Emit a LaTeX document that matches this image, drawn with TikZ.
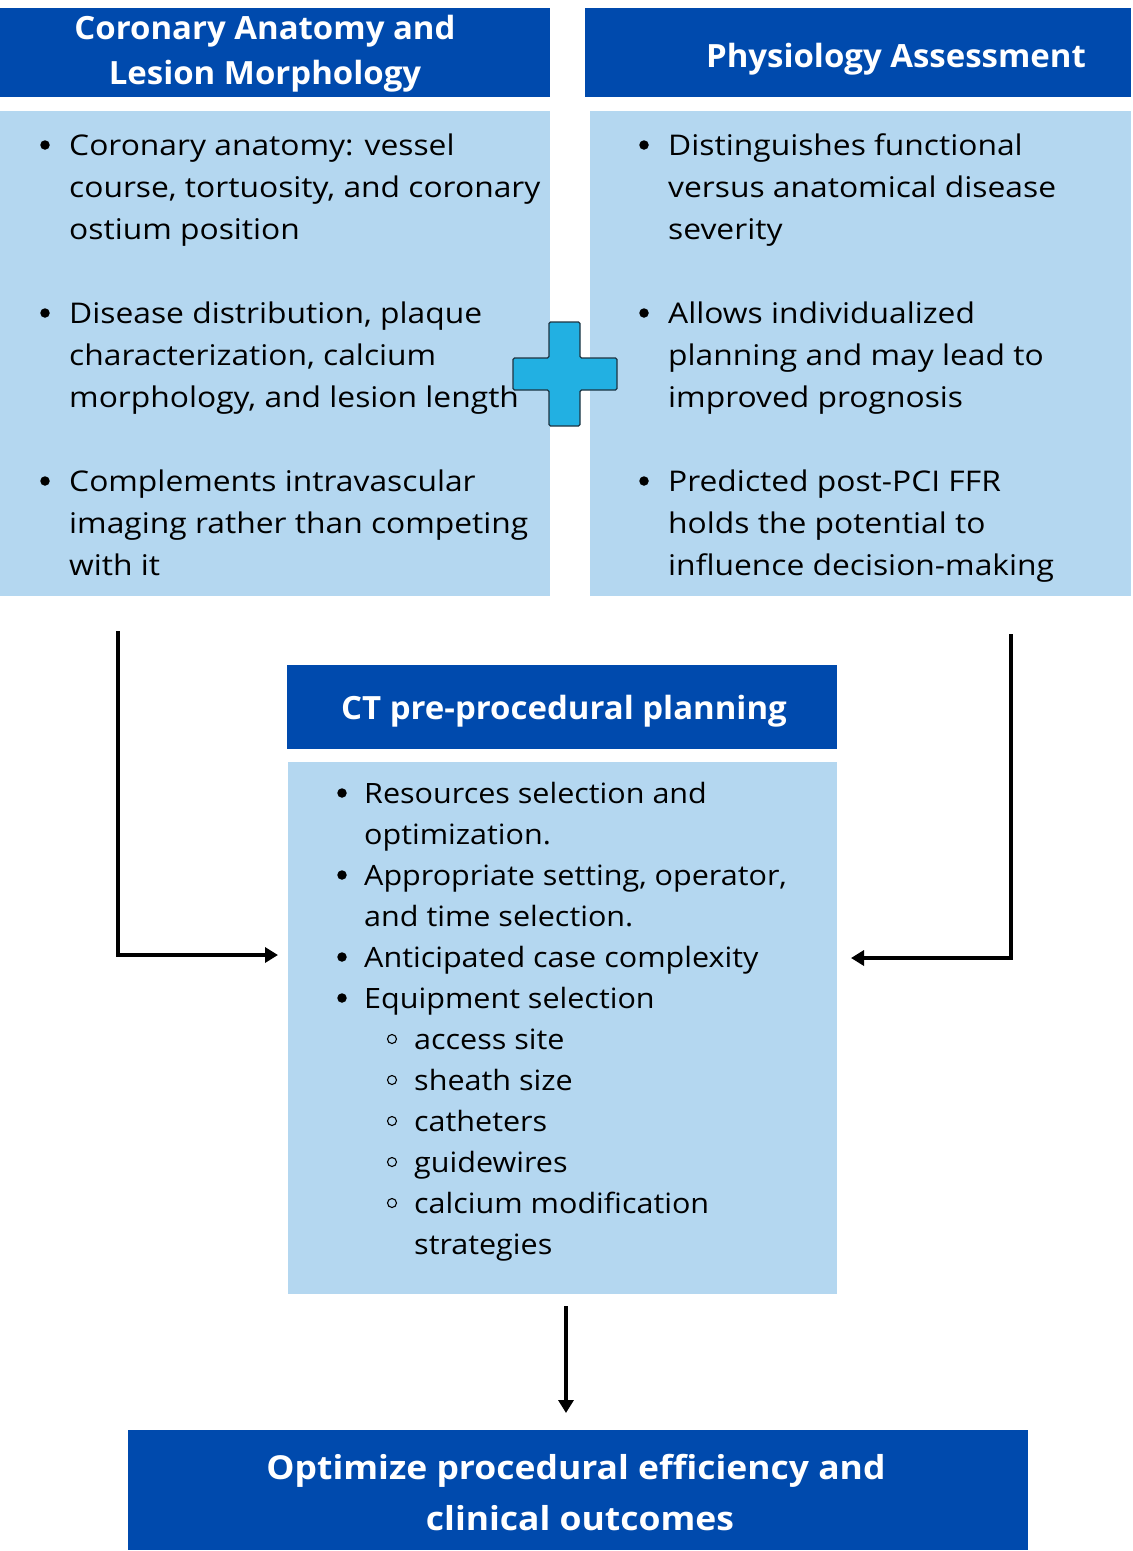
\documentclass[tikz,border=0pt]{standalone}
\usepackage{fontspec}
\setmainfont{Open Sans}
\newfontfamily\bodyff[FakeStretch=1.115]{Open Sans}
\newfontfamily\ctrff[FakeStretch=1.09]{Open Sans}
\newfontfamily\hdrff[FakeStretch=1.03]{Open Sans}
\newfontfamily\botff[FakeStretch=1.075]{Open Sans}
\usetikzlibrary{arrows.meta}
\definecolor{dblue}{HTML}{004AAD}
\definecolor{lblue}{HTML}{B4D7F0}
\definecolor{pblue}{HTML}{22B0E2}
\definecolor{pline}{HTML}{1E3442}
\newcommand{\bodyfont}{\bodyff\fontsize{28.5}{42}\selectfont}
\newcommand{\ctrfont}{\ctrff\fontsize{28}{41}\selectfont}
\begin{document}
\begin{tikzpicture}[x=1pt,y=-1pt,
  hdrbox/.style={fill=dblue},
  bodybox/.style={fill=lblue},
  hdrtext/.style={anchor=base, inner sep=0pt, text=white, font=\hdrff\fontsize{32}{44}\bfseries\selectfont},
  bottext/.style={anchor=base, inner sep=0pt, text=white, font=\botff\fontsize{33}{50}\bfseries\selectfont},
  itemtext/.style={anchor=north west, inner sep=0pt, align=left, font=\bodyfont},
  ctrtext/.style={anchor=north west, inner sep=0pt, align=left, font=\ctrfont},
  dot/.style={circle, fill=black, inner sep=0pt, minimum size=9.5pt},
  odot/.style={circle, draw=black, line width=1.1pt, fill=none, inner sep=0pt, minimum size=9pt},
  conn/.style={line width=3.4pt, -{Triangle[length=13pt,width=15pt]}}
]
\useasboundingbox (0,0) rectangle (1133,1551);
\fill[white] (0,0) rectangle (1133,1551);

% boxes
\fill[hdrbox] (0,8) rectangle (550,97);
\fill[hdrbox] (585,8) rectangle (1131,97);
\fill[bodybox] (0,111) rectangle (550,596);
\fill[bodybox] (590,111) rectangle (1131,596);
\fill[hdrbox] (287,665) rectangle (837,749);
\fill[bodybox] (288,762) rectangle (837,1294);
\fill[hdrbox] (128,1430) rectangle (1028,1550);

% headers
\node[hdrtext] (hl1) at (265,39) {Coronary Anatomy and};
\node[hdrtext] (hl2) at (265,84) {Lesion Morphology};
\node[hdrtext] (hr) at (896,67) {Physiology Assessment};
\node[hdrtext] (hc) at (564,719) {CT pre-procedural planning};
\node[bottext] (ho1) at (576,1479) {Optimize procedural efficiency and};
\node[bottext] (ho2) at (580,1530) {clinical outcomes};

% left items
\node[dot] (lb1) at (45,145) {};
\node[itemtext] (li1) at (69,125.6) {\strut Coronary anatomy: vessel\\course, tortuosity, and coronary\\ostium position};
\node[dot] (lb2) at (45,313) {};
\node[itemtext] (li2) at (69,293.6) {\strut Disease distribution, plaque\\characterization, calcium\\morphology, and lesion length};
\node[dot] (lb3) at (45,481) {};
\node[itemtext] (li3) at (69,461.6) {\strut Complements intravascular\\imaging rather than competing\\with it};

% right items
\node[dot] (rb1) at (644,145) {};
\node[itemtext] (ri1) at (668,125.6) {\strut Distinguishes functional\\versus anatomical disease\\severity};
\node[dot] (rb2) at (644,313) {};
\node[itemtext] (ri2) at (668,293.6) {\strut Allows individualized\\planning and may lead to\\improved prognosis};
\node[dot] (rb3) at (644,481) {};
\node[itemtext] (ri3) at (668,461.6) {\strut Predicted post-PCI FFR\\holds the potential to\\influence decision-making};

% plus sign
\draw[fill=pblue, draw=pline, line width=1.3pt, rounded corners=1.5pt]
  (549,322) -- (580,322) -- (580,358) -- (617,358) -- (617,390) -- (580,390)
  -- (580,426) -- (549,426) -- (549,390) -- (513,390) -- (513,358) -- (549,358) -- cycle;

% center items
\node[dot] (cb1) at (342,793) {};
\node[ctrtext] (ci1) at (364,774.3) {\strut Resources selection and\\optimization.};
\node[dot] (cb2) at (342,875) {};
\node[ctrtext] (ci2) at (364,856.3) {\strut Appropriate setting, operator,\\and time selection.};
\node[dot] (cb3) at (342,957) {};
\node[ctrtext] (ci3) at (364,938.3) {\strut Anticipated case complexity};
\node[dot] (cb4) at (342,998) {};
\node[ctrtext] (ci4) at (364,979.3) {\strut Equipment selection};
\node[odot] (sb1) at (392,1039) {};
\node[ctrtext] (si1) at (414,1020.3) {\strut access site};
\node[odot] (sb2) at (392,1080) {};
\node[ctrtext] (si2) at (414,1061.3) {\strut sheath size};
\node[odot] (sb3) at (392,1121) {};
\node[ctrtext] (si3) at (414,1102.3) {\strut catheters};
\node[odot] (sb4) at (392,1162) {};
\node[ctrtext] (si4) at (414,1143.3) {\strut guidewires};
\node[odot] (sb5) at (392,1203) {};
\node[ctrtext] (si5) at (414,1184.3) {\strut calcium modification\\strategies};

% connectors
\coordinate (la) at (118,631);
\coordinate (lt) at (278,955);
\coordinate (ra) at (1011,634);
\coordinate (rt) at (851,958);
\coordinate (da) at (566,1306);
\coordinate (dt) at (566,1413);
\draw[conn] (la) |- (lt);
\draw[conn] (ra) |- (rt);
\draw[conn] (da) -- (dt);
\end{tikzpicture}
\end{document}
